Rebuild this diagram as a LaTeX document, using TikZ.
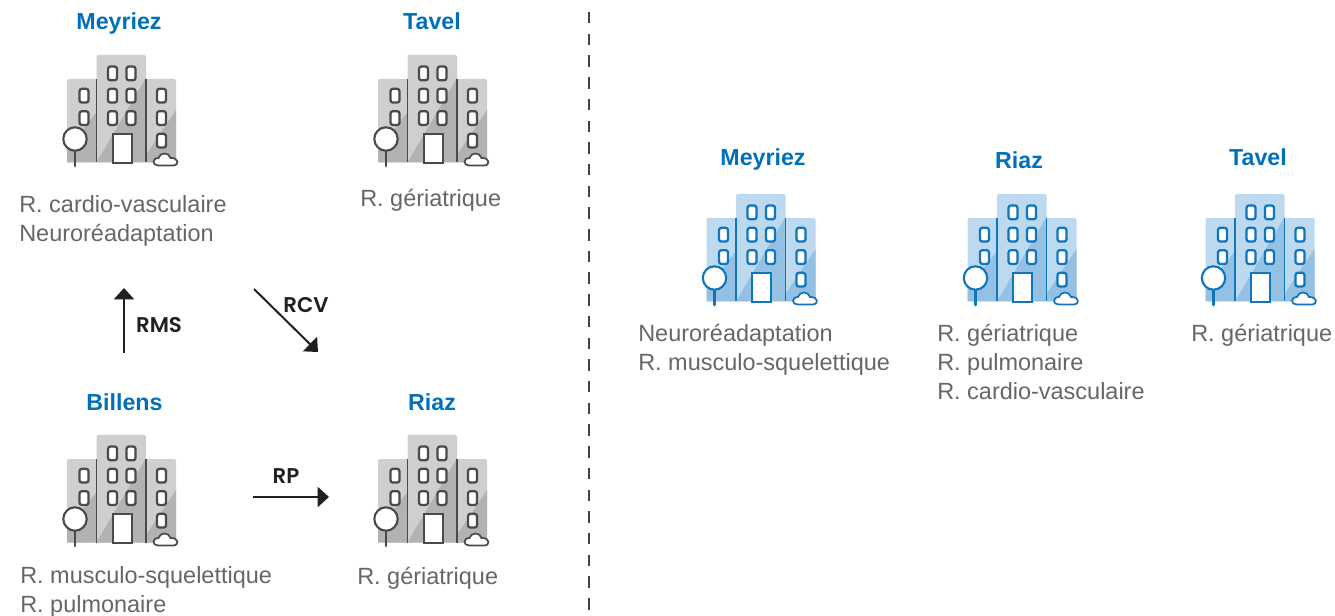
\documentclass[tikz,border=0pt]{standalone}
\usepackage{fontspec}
\setmainfont{Liberation Sans}
\newfontfamily\labfont[BoldFont={Poppins SemiBold}]{Poppins}
\usetikzlibrary{arrows.meta}
\definecolor{grayL}{HTML}{CFCFCF}
\definecolor{grayD}{HTML}{B2B2B2}
\definecolor{grayK}{HTML}{4A4A4A}
\definecolor{bluL}{HTML}{BDD9EF}
\definecolor{bluD}{HTML}{94C1E3}
\definecolor{bluK}{HTML}{0F75BC}
\definecolor{titleblue}{HTML}{0070BA}
\definecolor{bodygray}{HTML}{666666}
\definecolor{inkblack}{HTML}{231F20}
\tikzset{
  x=0.75pt,y=-0.75pt,
  titletext/.style={anchor=base,inner sep=0pt,text=titleblue,font=\fontsize{17.4}{20}\selectfont\bfseries},
  bodytext/.style={anchor=north west,inner sep=0pt,text=bodygray,align=left,font=\fontsize{17.6}{21.75}\selectfont},
  flowlabel/.style={anchor=base,inner sep=0pt,text=inkblack,font=\labfont\fontsize{16}{18}\selectfont\bfseries},
  flowarrow/.style={draw=inkblack,line width=1.5pt,-{Triangle[length=8.5pt,width=15pt]}},
  windowbox/.style={draw=bkline,line width=1.7pt,fill=white,rounded corners=1.8pt},
  pics/building/.style n args={3}{code={
    \colorlet{bklight}{#1}\colorlet{bkdark}{#2}\colorlet{bkline}{#3}
    \fill[bklight,rounded corners=1pt] (29.5,0) rectangle (79,107.5);
    \fill[bklight,rounded corners=1pt] (0,24) rectangle (29.5,107.5);
    \fill[bklight,rounded corners=1pt] (79,24) rectangle (109,107.5);
    \fill[bkdark] (0,95) -- (29.5,57) -- (29.5,107.5) -- (0,107.5) -- cycle;
    \fill[bkdark] (29.5,107.5) -- (79,23) -- (79,107.5) -- cycle;
    \fill[bkdark] (79,100) -- (109,55) -- (109,107.5) -- (79,107.5) -- cycle;
    \draw[bkline,line width=1.3pt] (29.5,24) -- (29.5,107.5) (79,24) -- (79,107.5);
    \foreach \wx/\wy in {41/11.5,59.5/11.5,41/33.8,59.5/33.8,41/56.2,59.5/56.2,12.5/33.8,12.5/56.2,90/33.8,90/56.2,90/78.8}{
      \draw[windowbox] (\wx,\wy) rectangle ++(9,13.8);
    }
    \draw[bkline,line width=1.7pt,fill=white] (45.7,79) rectangle (64.7,107.7);
    \draw[bkline,line width=2.2pt,line cap=round] (8,96) -- (8,111);
    \draw[bkline,line width=1.6pt,fill=white] (8,84) circle[radius=11.7];
    \draw[bkline,line width=1.3pt,fill=white] (91,110.5) .. controls (85,110.5) and (85,103) .. (91.5,103)
      .. controls (93,97) and (102,97) .. (103.5,103) .. controls (112,102.5) and (112.5,110.5) .. (106,110.5) -- cycle;
  }}
}
\begin{document}
\begin{tikzpicture}
\useasboundingbox (0,0) rectangle (1335,616);
% left panel
\pic at (67,55) {building={grayL}{grayD}{grayK}};
\pic at (378,55) {building={grayL}{grayD}{grayK}};
\pic at (67,435) {building={grayL}{grayD}{grayK}};
\pic at (378,435) {building={grayL}{grayD}{grayK}};
\node[titletext] (tm1) at (119,29.5) {Meyriez};
\node[titletext] (tt1) at (432,29.5) {Tavel};
\node[titletext] (tb1) at (124.5,410.5) {Billens};
\node[titletext] (tr1) at (432,410.5) {Riaz};
\node[bodytext] (bm1) at (19,195) {R. cardio-vasculaire\\Neuroréadaptation};
\node[bodytext] (bt1) at (360,189) {R. gériatrique};
\node[bodytext] (bb1) at (20,566.5) {R. musculo-squelettique\\R. pulmonaire};
\node[bodytext] (br1) at (357,566.5) {R. gériatrique};
% flows
\coordinate (a1s) at (124,353); \coordinate (a1e) at (124,288);
\coordinate (a2s) at (254,289); \coordinate (a2e) at (318,352);
\coordinate (a3s) at (253,497); \coordinate (a3e) at (329,497);
\draw[flowarrow] (a1s) -- (a1e);
\draw[flowarrow] (a2s) -- (a2e);
\draw[flowarrow] (a3s) -- (a3e);
\node[flowlabel] (lrms) at (159,333) {RMS};
\node[flowlabel] (lrcv) at (306,313) {RCV};
\node[flowlabel] (lrp) at (286,483) {RP};
% divider
\coordinate (d1) at (589,12); \coordinate (d2) at (589,610);
\draw[inkblack!85,line width=2.2pt,dash pattern=on 8.6pt off 7.68pt] (d1) -- (d2);
% right panel
\pic at (706.5,194) {building={bluL}{bluD}{bluK}};
\pic at (967.5,194) {building={bluL}{bluD}{bluK}};
\pic at (1205.5,194) {building={bluL}{bluD}{bluK}};
\node[titletext] (tm2) at (763,165.5) {Meyriez};
\node[titletext] (tr2) at (1019,168.5) {Riaz};
\node[titletext] (tt2) at (1258,165.5) {Tavel};
\node[bodytext] (bm2) at (638,324) {Neuroréadaptation\\R. musculo-squelettique};
\node[bodytext] (br2) at (937,324) {R. gériatrique\\R. pulmonaire\\R. cardio-vasculaire};
\node[bodytext] (bt2) at (1191,324) {R. gériatrique};
\end{tikzpicture}
\end{document}
